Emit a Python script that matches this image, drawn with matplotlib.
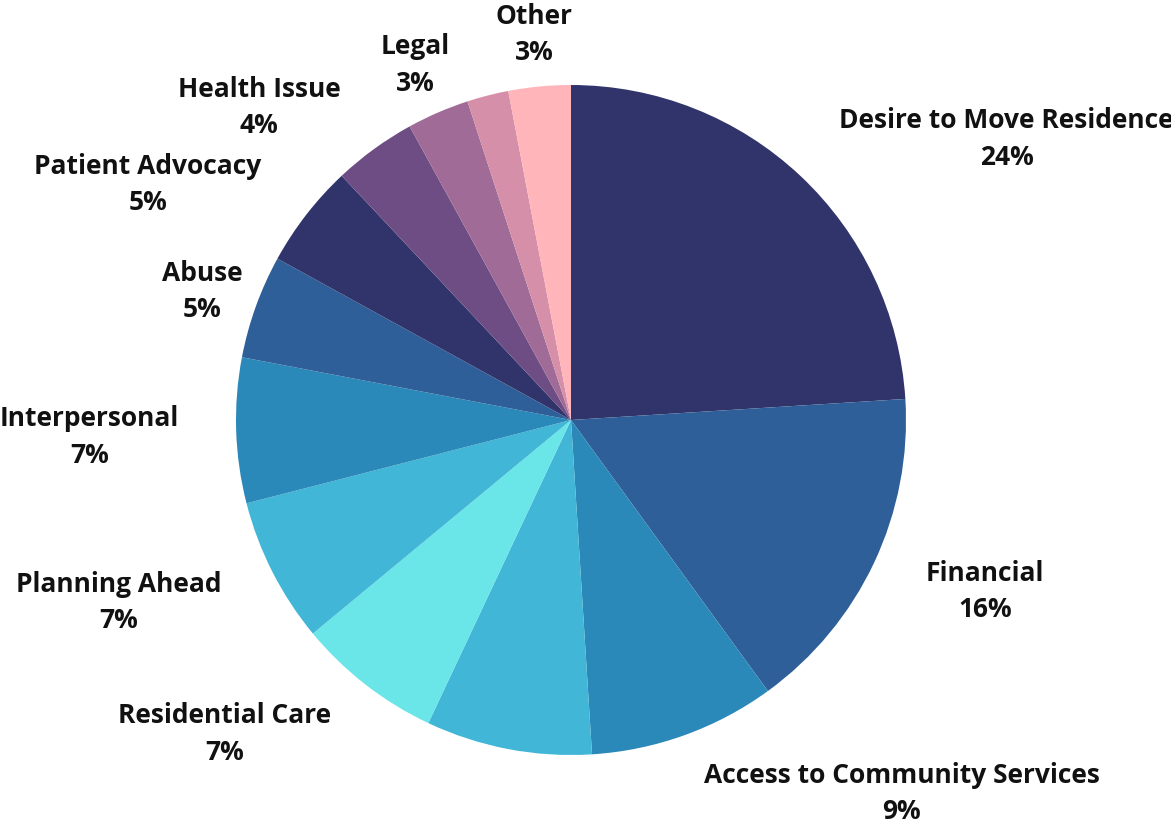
import numpy as np
import matplotlib
matplotlib.use("Agg")
import matplotlib.pyplot as plt

# slices, clockwise from 12 o'clock (two small slices carry no label)
categories = ["Desire to Move Residence", "Financial", "Access to Community Services", "",
              "Residential Care", "Planning Ahead", "Interpersonal", "Abuse",
              "Patient Advocacy", "Health Issue", "Legal", "", "Other"]
shares = [24, 16, 9, 8, 7, 7, 7, 5, 5, 4, 3, 2, 3]

colors = ["#31346b", "#2e5f98", "#2b89b9", "#41b6d6", "#6ae5e8", "#41b6d6", "#2b89b9",
          "#2e5f98", "#31346b", "#6e4d84", "#a06b96", "#d58fa8", "#ffb5ba"]
align = ["left", "left", "left", "left", "right", "right", "right", "center",
         "right", "right", "center", "center", "center"]

plt.rcParams["font.family"] = ["Open Sans", "DejaVu Sans"]

fig = plt.figure(figsize=(11.71, 8.22), dpi=100)
ax = fig.add_axes([0, 0, 1, 1])
R = 335.0
cx, cy = 571.0, 420.0

wedges, _ = ax.pie(shares, colors=colors, startangle=90, counterclock=False,
                   radius=1.0, center=(0, 0), frame=True,
                   wedgeprops=dict(linewidth=0))
ax.set_xlim(-cx / R, (1171 - cx) / R)
ax.set_ylim(-(822 - cy) / R, cy / R)
ax.axis("off")

for w, name, val, ha in zip(wedges, categories, shares, align):
    if not name:
        continue
    mid = np.deg2rad((w.theta1 + w.theta2) / 2)
    r = 1.17
    x, y = r * np.cos(mid), r * np.sin(mid) - 4.5 / R
    ax.text(x, y, f"{name}\n{val}%", ha=ha, va="center", multialignment="center",
            fontsize=19, fontweight="bold", color="#111111", linespacing=1.45,
            clip_on=False)

fig.savefig("out.png", dpi=100, facecolor="white")
